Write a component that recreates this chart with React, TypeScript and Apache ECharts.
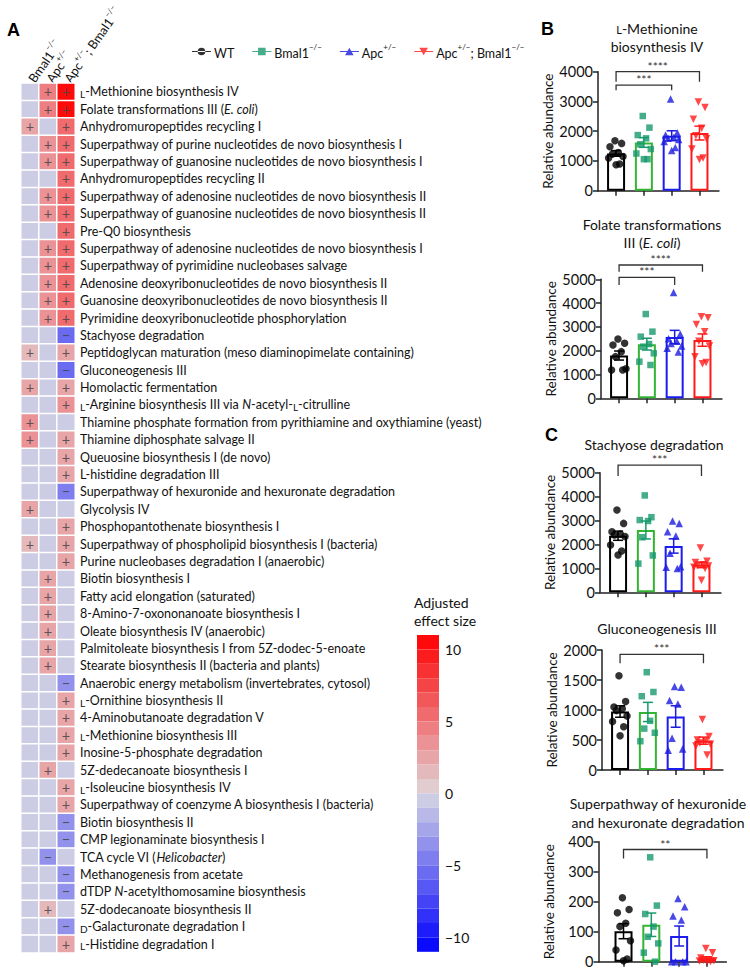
import { useEffect, useRef } from 'react';
import * as echarts from 'echarts';

const FONT = 'Lato, "Noto Sans", sans-serif';

// ---------- Panel A: heatmap ----------
const PATHWAYS = [
  'L-Methionine biosynthesis IV',
  'Folate transformations III (E. coli)',
  'Anhydromuropeptides recycling I',
  'Superpathway of purine nucleotides de novo biosynthesis I',
  'Superpathway of guanosine nucleotides de novo biosynthesis I',
  'Anhydromuropeptides recycling II',
  'Superpathway of adenosine nucleotides de novo biosynthesis II',
  'Superpathway of guanosine nucleotides de novo biosynthesis II',
  'Pre-Q0 biosynthesis',
  'Superpathway of adenosine nucleotides de novo biosynthesis I',
  'Superpathway of pyrimidine nucleobases salvage',
  'Adenosine deoxyribonucleotides de novo biosynthesis II',
  'Guanosine deoxyribonucleotides de novo biosynthesis II',
  'Pyrimidine deoxyribonucleotide phosphorylation',
  'Stachyose degradation',
  'Peptidoglycan maturation (meso diaminopimelate containing)',
  'Gluconeogenesis III',
  'Homolactic fermentation',
  'L-Arginine biosynthesis III via N-acetyl-L-citrulline',
  'Thiamine phosphate formation from pyrithiamine and oxythiamine (yeast)',
  'Thiamine diphosphate salvage II',
  'Queuosine biosynthesis I (de novo)',
  'L-histidine degradation III',
  'Superpathway of hexuronide and hexuronate degradation',
  'Glycolysis IV',
  'Phosphopantothenate biosynthesis I',
  'Superpathway of phospholipid biosynthesis I (bacteria)',
  'Purine nucleobases degradation I (anaerobic)',
  'Biotin biosynthesis I',
  'Fatty acid elongation (saturated)',
  '8-Amino-7-oxononanoate biosynthesis I',
  'Oleate biosynthesis IV (anaerobic)',
  'Palmitoleate biosynthesis I from 5Z-dodec-5-enoate',
  'Stearate biosynthesis II (bacteria and plants)',
  'Anaerobic energy metabolism (invertebrates, cytosol)',
  'L-Ornithine biosynthesis II',
  '4-Aminobutanoate degradation V',
  'L-Methionine biosynthesis III',
  'Inosine-5-phosphate degradation',
  '5Z-dedecanoate biosynthesis I',
  'L-Isoleucine biosynthesis IV',
  'Superpathway of coenzyme A biosynthesis I (bacteria)',
  'Biotin biosynthesis II',
  'CMP legionaminate biosynthesis I',
  'TCA cycle VI (Helicobacter)',
  'Methanogenesis from acetate',
  'dTDP N-acetylthomosamine biosynthesis',
  '5Z-dodecanoate biosynthesis II',
  'D-Galacturonate degradation I',
  'L-Histidine degradation I',
];

const GENOTYPE_COLUMNS = ['Bmal1−/−', 'Apc+/−', 'Apc+/−; Bmal1−/−'];

const EFFECT_BMAL1 = [
  0, 0, 2.5, 0, 0, 0, 0, 0, 0, 0, 0, 0, 0, 0,
  0, 2, 0, 2.5, 0, 3.5, 3.5, 0, 0, 0, 3, 0, 1.8, 0,
  0, 0, 0, 0, 0, 0,
  0, 0, 0, 0, 0, 0, 0, 0,
  0, 0, 0, 0, 0, 0, 0, 0,
];
const EFFECT_APC = [
  4.5, 4.5, 0, 3.8, 3.8, 0, 3.2, 3.2, 0, 3.2, 3.2, 3.2, 3.2, 3.8,
  0, 0, 0, 0, 0, 0, 0, 0, 0, 0, 0, 0, 0, 0,
  2.5, 2.5, 2.5, 2.5, 2.5, 2.5,
  0, 0, 0, 0, 0, 3, 0, 0,
  0, 0, -3, 0, 0, 2, 0, 0,
];
const EFFECT_APC_BMAL1 = [
  10.5, 10.3, 5.2, 5.5, 5.5, 5.5, 5.5, 5.5, 5.5, 5.5, 5.5, 5.5, 5.5, 5.5,
  -5.5, 3, -5.5, 3, 3.5, 0, 2.8, 2.8, 3, -4.5, 0, 3, 3, 3,
  0, 0, 0, 0, 0, 0,
  -3.5, 2.8, 2.8, 2.8, 2.8, 0, 2.8, 2.8,
  -3, -3, 0, -3, -3, 0, -3, 2.8,
];

const SCALE_TICKS = [10, 5, 0, -5, -10];

// ---------- Panels B & C ----------
const GROUPS = ['WT', 'Bmal1−/−', 'Apc+/−', 'Apc+/−; Bmal1−/−'];

const METH_WT = [1680, 1590, 1480, 1280, 1230, 1150, 1100, 900, 870];
const METH_BMAL1 = [2510, 2120, 1870, 1760, 1560, 1400, 1250, 1060, 1060];
const METH_APC = [3080, 1950, 1870, 1800, 1760, 1720, 1650, 1450, 1350];
const METH_APC_BMAL1 = [2980, 2800, 2400, 2100, 1850, 1750, 1400, 1100, 1050];

const FOLATE_WT = [2490, 2310, 2240, 1960, 1750, 1240, 1190, 1190];
const FOLATE_BMAL1 = [3540, 2800, 2590, 2280, 2170, 1890, 1540, 1400];
const FOLATE_APC = [4450, 2700, 2500, 2400, 2300, 2200, 2100, 1950];
const FOLATE_APC_BMAL1 = [3430, 3380, 3100, 2800, 2400, 2200, 1750, 1500, 1450];

const STACHY_WT = [3440, 2880, 2530, 2440, 2400, 2330, 1980, 1730, 1560];
const STACHY_BMAL1 = [4050, 3140, 3020, 2980, 2300, 1540, 1200];
const STACHY_APC = [2980, 2880, 2530, 2350, 1630, 1070, 1050, 1000];
const STACHY_APC_BMAL1 = [1850, 1300, 1250, 1150, 1120, 1100, 1050, 1000, 500];

const GLUCO_WT = [1570, 1140, 1050, 1020, 990, 900, 810, 720, 570];
const GLUCO_BMAL1 = [1630, 1300, 1230, 820, 690, 620, 480];
const GLUCO_APC = [1390, 1380, 1160, 1100, 530, 350, 330];
const GLUCO_APC_BMAL1 = [840, 560, 500, 480, 450, 430, 400, 250];

const HEXUR_WT = [213, 174, 163, 128, 117, 70, 39, 9, 3];
const HEXUR_BMAL1 = [348, 187, 159, 117, 83, 61, 30, 0];
const HEXUR_APC = [211, 183, 152, 139, 0, 0, 0, 0];
const HEXUR_APC_BMAL1 = [44, 30, 12, 6, 5, 3, 2, 1, 0];

const METH_SIG = [
  { from: 1, to: 4, y: 4000, leg: 3660, label: '****' },
  { from: 1, to: 3, y: 3550, leg: 3380, label: '***' },
];
const FOLATE_SIG = [
  { from: 1, to: 4, y: 5600, leg: 5320, label: '****' },
  { from: 1, to: 3, y: 5080, leg: 4760, label: '***' },
];
const STACHY_SIG = [{ from: 1, to: 4, y: 5320, leg: 4860, label: '***' }];
const GLUCO_SIG = [{ from: 1, to: 4, y: 1928, leg: 1778, label: '***' }];
const HEXUR_SIG = [{ from: 1, to: 4, y: 374, leg: 344, label: '**' }];

const PANELS = [
  { title: ['{sc|L}-Methionine', 'biosynthesis IV'], groups: [METH_WT, METH_BMAL1, METH_APC, METH_APC_BMAL1], ymax: 4000, interval: 1000, sig: METH_SIG },
  { title: ['Folate transformations', 'III ({i|E. coli})'], groups: [FOLATE_WT, FOLATE_BMAL1, FOLATE_APC, FOLATE_APC_BMAL1], ymax: 5000, interval: 1000, sig: FOLATE_SIG },
  { title: ['Stachyose degradation'], groups: [STACHY_WT, STACHY_BMAL1, STACHY_APC, STACHY_APC_BMAL1], ymax: 5000, interval: 1000, sig: STACHY_SIG },
  { title: ['Gluconeogenesis III'], groups: [GLUCO_WT, GLUCO_BMAL1, GLUCO_APC, GLUCO_APC_BMAL1], ymax: 2000, interval: 500, sig: GLUCO_SIG },
  { title: ['Superpathway of hexuronide', 'and hexuronate degradation'], groups: [HEXUR_WT, HEXUR_BMAL1, HEXUR_APC, HEXUR_APC_BMAL1], ymax: 400, interval: 100, sig: HEXUR_SIG },
];

// layout (pixels)
const PANEL_LAYOUT = [
  { left: 598, top: 71.7, height: 119, xMin: 0.35, titleX: 657, titleY: [28, 46] },
  { left: 601, top: 279.3, height: 119, xMin: 0.35, titleX: 652, titleY: [224, 242] },
  { left: 600, top: 472.7, height: 119.6, xMin: 0.35, titleX: 654, titleY: [444] },
  { left: 602, top: 650, height: 120, xMin: 0.35, titleX: 657, titleY: [628] },
  { left: 598.5, top: 841.7, height: 120, xMin: 0.1, titleX: 658, titleY: [803, 822] },
];
const X_MAX = 4.7;
const PX_PER_GROUP = 27.8;

const POINT_COLORS = ['#000000', '#17996b', '#1c1ce0', '#ff1a1a'];
const BAR_COLORS = ['#000000', '#33b533', '#1c1cf0', '#ff1a1a'];
const SYMBOLS = ['circle', 'rect', 'triangle', 'triangle'];
const SYMBOL_ROT = [0, 0, 0, 180];
const SYMBOL_SIZE = [7.5, 6.5, 7.5, 7.5];
const JITTER = [-0.04, 0.2, -0.22, 0.08, -0.13, 0.25, -0.27, 0.13, 0.0, -0.18];

const LEGEND_ICONS = [
  'path://M0 3.4H20V4.6H0Z M6 4A4 4 0 1 0 14 4A4 4 0 1 0 6 4Z',
  'path://M0 3.4H20V4.6H0Z M6 0H14V8H6Z',
  'path://M0 3.4H20V4.6H0Z M10 0L14.5 8H5.5Z',
  'path://M0 3.4H20V4.6H0Z M5.5 0H14.5L10 8Z',
];

function effectColor(v: number): string {
  const t = Math.min(Math.abs(v) / 11, 1);
  let c: number[];
  if (v >= 0) {
    const a = [224, 214, 218];
    const b = [255, 0, 0];
    c = a.map((x, i) => Math.round(x + (b[i] - x) * t));
  } else {
    const a = [214, 214, 228];
    const b = [0, 0, 255];
    c = a.map((x, i) => Math.round(x + (b[i] - x) * t));
  }
  return `rgb(${c[0]},${c[1]},${c[2]})`;
}

function supify(s: string, base = 'b'): string {
  return s
    .split(/([+−]\/[+−])/)
    .map((part, i) => (part ? (i % 2 ? `{sup|${part}}` : `{${base}|${part}}`) : ''))
    .join('');
}

function pathwayRich(s: string): string {
  let r = s;
  r = r.replace(/^([LD])-(?=[A-Z])/, '{sc|$1}-');
  r = r.replace(/-L-citrulline/, '-{sc|L}-citrulline');
  r = r.replace('(E. coli)', '({i|E. coli})');
  r = r.replace('Helicobacter', '{i|Helicobacter}');
  r = r.replace(/\bN-acetyl/, '{i|N}-acetyl');
  return r;
}

function mean(a: number[]) {
  return a.reduce((s, v) => s + v, 0) / a.length;
}
function sem(a: number[]) {
  const m = mean(a);
  const v = a.reduce((s, x) => s + (x - m) * (x - m), 0) / (a.length - 1);
  return Math.sqrt(v) / Math.sqrt(a.length);
}

function buildOption() {
  const heatData: any[] = [];
  const cols = [EFFECT_BMAL1, EFFECT_APC, EFFECT_APC_BMAL1];
  cols.forEach((arr, c) => arr.forEach((v, r) => heatData.push([c, r, v])));

  const pieces: any[] = [];
  for (let k = 10; k >= -11; k--) {
    pieces.push({ gt: k, lte: k + 1, color: effectColor(k + 0.5) });
  }

  const grids: any[] = [{ left: 21, top: 83.3, width: 54, height: 869.4 }];
  const xAxes: any[] = [
    {
      type: 'category',
      gridIndex: 0,
      position: 'top',
      data: GENOTYPE_COLUMNS,
      axisLine: { show: false },
      axisTick: { show: false },
      axisLabel: {
        interval: 0,
        rotate: -55,
        margin: 3,
        formatter: (v: string) => supify(v),
        rich: {
          b: { fontSize: 12.5, lineHeight: 16, verticalAlign: 'bottom', fontFamily: FONT, color: '#111' },
          sup: { fontSize: 8, lineHeight: 9, verticalAlign: 'top', fontFamily: FONT, color: '#111' },
        },
      },
    },
  ];
  const yAxes: any[] = [
    {
      type: 'category',
      gridIndex: 0,
      inverse: true,
      position: 'right',
      data: PATHWAYS,
      axisLine: { show: false },
      axisTick: { show: false },
      axisLabel: {
        interval: 0,
        margin: 5,
        fontSize: 12.5,
        fontFamily: FONT,
        color: '#111',
        lineHeight: 14,
        formatter: (v: string) => pathwayRich(v),
        rich: {
          sc: { fontSize: 10, lineHeight: 12, verticalAlign: 'bottom', fontFamily: FONT, color: '#111' },
          i: { fontStyle: 'italic', fontSize: 12.5, fontFamily: FONT, color: '#111' },
        },
      },
    },
  ];

  const series: any[] = [
    {
      type: 'heatmap',
      xAxisIndex: 0,
      yAxisIndex: 0,
      data: heatData,
      itemStyle: { borderColor: '#ffffff', borderWidth: 1.5 },
      label: {
        show: true,
        fontSize: 14.5,
        fontFamily: FONT,
        color: 'rgba(70,70,70,0.85)',
        formatter: (p: any) => (p.value[2] > 0 ? '+' : p.value[2] < 0 ? '−' : ''),
      },
    },
  ];

  const graphics: any[] = [
    { type: 'text', left: 7, top: 21, style: { text: 'A', fontSize: 18, fontWeight: 'bold', fontFamily: 'Liberation Sans', fill: '#000' } },
    { type: 'text', left: 541, top: 20, style: { text: 'B', fontSize: 18, fontWeight: 'bold', fontFamily: 'Liberation Sans', fill: '#000' } },
    { type: 'text', left: 545, top: 426, style: { text: 'C', fontSize: 18, fontWeight: 'bold', fontFamily: 'Liberation Sans', fill: '#000' } },
    { type: 'text', x: 414, y: 602, style: { text: 'Adjusted', fontSize: 14, fontFamily: FONT, fill: '#111', verticalAlign: 'middle' } },
    { type: 'text', x: 414, y: 620, style: { text: 'effect size', fontSize: 14, fontFamily: FONT, fill: '#111', verticalAlign: 'middle' } },
  ];
  SCALE_TICKS.forEach((t) => {
    graphics.push({
      type: 'text',
      x: 445,
      y: 635 + (11 - t) * 14.4,
      style: { text: t < 0 ? '−' + Math.abs(t) : String(t), fontSize: 14, fontFamily: FONT, fill: '#111', verticalAlign: 'middle' },
    });
  });

  PANELS.forEach((panel, i) => {
    const L = PANEL_LAYOUT[i];
    const gi = i + 1;
    grids.push({ left: L.left, top: L.top, height: L.height, width: (X_MAX - L.xMin) * PX_PER_GROUP });
    xAxes.push({
      type: 'value',
      gridIndex: gi,
      min: L.xMin,
      max: X_MAX,
      splitLine: { show: false },
      axisLine: { show: true, lineStyle: { color: '#222', width: 1.5 } },
      axisTick: { show: true, length: 5, lineStyle: { color: '#222', width: 1.5 }, customValues: [1, 2, 3, 4] },
      axisLabel: { show: false },
    });
    yAxes.push({
      type: 'value',
      gridIndex: gi,
      min: 0,
      max: panel.ymax,
      interval: panel.interval,
      name: 'Relative abundance',
      nameLocation: 'middle',
      nameGap: 43,
      nameTextStyle: { fontSize: 13.5, fontFamily: FONT, color: '#111' },
      splitLine: { show: false },
      axisLine: { show: true, lineStyle: { color: '#222', width: 1.5 } },
      axisTick: { show: true, length: 5, lineStyle: { color: '#222', width: 1.5 } },
      axisLabel: { fontSize: 14.5, fontFamily: FONT, color: '#111', margin: 5, formatter: (v: number) => String(v) },
    });

    const stats = panel.groups.map((g) => ({ m: mean(g), s: sem(g) }));

    series.push({
      type: 'bar',
      xAxisIndex: gi,
      yAxisIndex: gi,
      barWidth: 18,
      z: 1,
      silent: true,
      data: stats.map((st, k) => ({
        value: [k + 1, st.m],
        itemStyle: { color: 'rgba(255,255,255,0)', borderColor: BAR_COLORS[k], borderWidth: 2 },
      })),
    });

    series.push({
      type: 'custom',
      xAxisIndex: gi,
      yAxisIndex: gi,
      z: 2,
      silent: true,
      encode: { x: 0, y: [1, 2] },
      data: stats.map((st, k) => [k + 1, st.m - st.s, st.m + st.s, k]),
      renderItem: (params: any, api: any) => {
        const x = api.value(0);
        const k = api.value(3);
        const lo = api.coord([x, api.value(1)]);
        const hi = api.coord([x, api.value(2)]);
        const hw = 5;
        const st = { stroke: POINT_COLORS[k], lineWidth: 1.5 };
        return {
          type: 'group',
          children: [
            { type: 'line', shape: { x1: lo[0], y1: lo[1], x2: hi[0], y2: hi[1] }, style: st },
            { type: 'line', shape: { x1: hi[0] - hw, y1: hi[1], x2: hi[0] + hw, y2: hi[1] }, style: st },
            { type: 'line', shape: { x1: lo[0] - hw, y1: lo[1], x2: lo[0] + hw, y2: lo[1] }, style: st },
          ],
        };
      },
    });

    panel.groups.forEach((vals, k) => {
      series.push({
        type: 'scatter',
        name: GROUPS[k],
        xAxisIndex: gi,
        yAxisIndex: gi,
        z: 3,
        symbol: SYMBOLS[k],
        symbolRotate: SYMBOL_ROT[k],
        symbolSize: SYMBOL_SIZE[k],
        itemStyle: { color: POINT_COLORS[k] },
        data: vals.map((v, j) => [k + 1 + JITTER[j % JITTER.length], v]),
      });
    });

    series.push({
      type: 'custom',
      xAxisIndex: gi,
      yAxisIndex: gi,
      z: 4,
      silent: true,
      encode: { x: [0, 1], y: [2, 3] },
      data: panel.sig.map((s, j) => [s.from, s.to, s.y, s.leg, j]),
      renderItem: (params: any, api: any) => {
        const a = api.coord([api.value(0), api.value(3)]);
        const b = api.coord([api.value(0), api.value(2)]);
        const c = api.coord([api.value(1), api.value(2)]);
        const d = api.coord([api.value(1), api.value(3)]);
        const lbl = panel.sig[api.value(4)].label;
        return {
          type: 'group',
          children: [
            { type: 'polyline', shape: { points: [a, b, c, d] }, style: { stroke: '#333', lineWidth: 1.3, fill: 'none' } },
            {
              type: 'text',
              x: (b[0] + c[0]) / 2,
              y: b[1] - 5.5,
              style: { text: lbl, align: 'center', verticalAlign: 'middle', fontSize: 12, fontFamily: FONT, fill: '#333' },
            },
          ],
        };
      },
    });

    panel.title.forEach((t, li) => {
      graphics.push({
        type: 'text',
        x: L.titleX,
        y: L.titleY[li],
        style: {
          text: t,
          align: 'center',
          verticalAlign: 'middle',
          fontSize: 14,
          fontFamily: FONT,
          fill: '#111',
          rich: {
            sc: { fontSize: 11, fontFamily: FONT, fill: '#111', verticalAlign: 'bottom', lineHeight: 14 },
            i: { fontSize: 14, fontStyle: 'italic', fontFamily: FONT, fill: '#111' },
          },
        },
      });
    });
  });

  return {
    animation: false,
    backgroundColor: '#ffffff',
    textStyle: { fontFamily: FONT },
    grid: grids,
    xAxis: xAxes,
    yAxis: yAxes,
    visualMap: {
      type: 'piecewise',
      seriesIndex: 0,
      dimension: 2,
      pieces,
      left: 417,
      top: 635,
      orient: 'vertical',
      itemWidth: 22,
      itemHeight: 14.4,
      itemGap: 0,
      itemSymbol: 'rect',
      showLabel: false,
      selectedMode: false,
      padding: 0,
    },
    legend: {
      left: 187,
      top: 38,
      itemWidth: 19,
      itemHeight: 8,
      itemGap: 18,
      selectedMode: false,
      data: GROUPS.map((g, k) => ({ name: g, icon: LEGEND_ICONS[k] })),
      formatter: (name: string) => supify(name),
      textStyle: {
        fontSize: 12.5,
        fontFamily: FONT,
        color: '#111',
        padding: [0, 0, 0, -2],
        rich: {
          b: { fontSize: 12.5, lineHeight: 17, verticalAlign: 'bottom', fontFamily: FONT, color: '#111' },
          sup: { fontSize: 8, lineHeight: 9, verticalAlign: 'top', fontFamily: FONT, color: '#111' },
        },
      },
    },
    graphic: graphics,
    series,
  };
}

export default function App() {
  const ref = useRef<HTMLDivElement>(null);
  useEffect(() => {
    if (!ref.current) return;
    const chart = echarts.init(ref.current, undefined, { renderer: 'svg' });
    chart.setOption(buildOption() as any);
    return () => chart.dispose();
  }, []);
  return <div ref={ref} style={{ position: 'absolute', left: 0, top: 0, width: 750, height: 977 }} />;
}
